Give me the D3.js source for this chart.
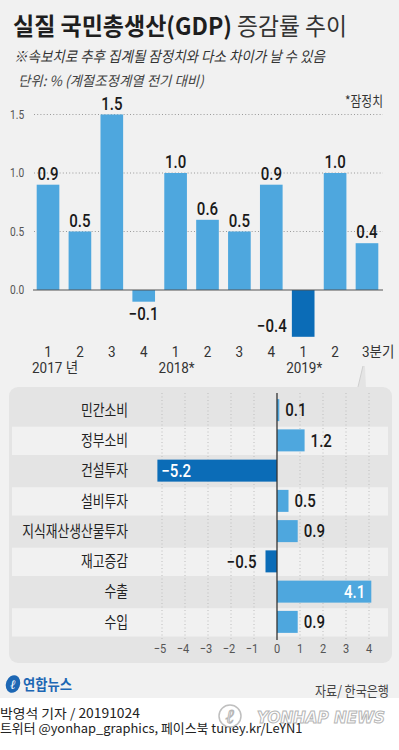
<!DOCTYPE html>
<html>
<head>
<meta charset="utf-8">
<script src="https://cdn.jsdelivr.net/npm/d3@7"></script>
<style>
  html, body { margin: 0; padding: 0; background: #ffffff; }
  svg { display: block; }
</style>
</head>
<body>
<svg id="chart" width="399" height="750"></svg>
<script>
// ---------- data ----------
const quarterKeys = ["2017Q1","2017Q2","2017Q3","2017Q4","2018Q1","2018Q2","2018Q3","2018Q4","2019Q1","2019Q2","2019Q3"];
const gdpGrowth = [0.9, 0.5, 1.5, -0.1, 1.0, 0.6, 0.5, 0.9, -0.4, 1.0, 0.4];
const quarterLabels = ["1","2","3","4","1","2","3","4","1","2","3분기"];
const yearLabels = ["2017 년","","","","2018*","","","","2019*","",""];
const gdpTicks = [0, 0.5, 1.0, 1.5];

const components = ["민간소비","정부소비","건설투자","설비투자","지식재산생산물투자","재고증감","수출","수입"];
const componentGrowth = [0.1, 1.2, -5.2, 0.5, 0.9, -0.5, 4.1, 0.9];
const componentTicks = [-5, -4, -3, -2, -1, 0, 1, 2, 3, 4];

const titleBold = "실질 국민총생산(GDP)";
const titleLight = "증감률 추이";
const subtitle = "※속보치로 추후 집계될 잠정치와 다소 차이가 날 수 있음";
const unitNote = "단위: % (계절조정계열 전기 대비)";
const provisionalNote = "*잠정치";
const sourceNote = "자료/ 한국은행";
const bylineText = "박영석 기자 / 20191024";
const socialText = "트위터 @yonhap_graphics, 페이스북 tuney.kr/LeYN1";

// ---------- helpers ----------
const KR = "'Noto Sans CJK KR', 'Noto Sans', sans-serif";
const NUM = "Roboto, 'Noto Sans CJK KR', sans-serif";
const LIGHT = "#4ea7de", DARK = "#0b6cb7";
const fmt = v => (v < 0 ? "\u2212" : "") + Math.abs(v).toFixed(1);
// horizontally squeeze text around its anchor point (factor or target width)
function squeeze(sel, f, isWidth) {
  sel.each(function () {
    const n = d3.select(this);
    const x0 = +n.attr("x") || 0, y0 = +n.attr("y") || 0;
    const L = this.getComputedTextLength();
    const k = isWidth ? f / L : f;
    n.attr("x", 0).attr("y", 0).attr("transform", `translate(${x0},${y0}) scale(${k},1)`);
  });
}
const fitWidth = (sel, w) => squeeze(sel, w, true);
const condense = (sel, f) => squeeze(sel, f, false);

const svg = d3.select("#chart");

// backgrounds
svg.append("rect").attr("x", 0).attr("y", 0).attr("width", 399).attr("height", 698).attr("fill", "#f1f1f1");
svg.append("rect").attr("x", 0).attr("y", 698).attr("width", 399).attr("height", 52).attr("fill", "#ffffff");

// ---------- titles ----------
svg.append("text").attr("x", 13).attr("y", 35).text(titleBold)
  .attr("font-family", KR).attr("font-weight", 700).attr("font-size", 24).attr("fill", "#1e1e1e")
  .call(fitWidth, 219);
svg.append("text").attr("x", 237).attr("y", 35).text(titleLight)
  .attr("font-family", KR).attr("font-weight", 400).attr("font-size", 24).attr("fill", "#333")
  .call(fitWidth, 110);
svg.append("text").attr("x", 14).attr("y", 62).text(subtitle)
  .attr("font-family", KR).attr("font-style", "italic").attr("font-size", 15).attr("fill", "#333")
  .call(fitWidth, 311);
svg.append("text").attr("x", 18).attr("y", 86).text(unitNote)
  .attr("font-family", KR).attr("font-style", "italic").attr("font-size", 14).attr("fill", "#444")
  .call(fitWidth, 186);
svg.append("text").attr("x", 345).attr("y", 106).text(provisionalNote)
  .attr("font-family", KR).attr("font-size", 14).attr("fill", "#333")
  .call(fitWidth, 38);

// ---------- top chart: GDP growth ----------
const gdpData = quarterKeys.map((k, i) => ({ key: k, value: gdpGrowth[i], q: quarterLabels[i], yr: yearLabels[i] }));
const x = d3.scaleBand().domain(quarterKeys).range([36.7, 378.3]).paddingInner(0.29).paddingOuter(0);
const y = d3.scaleLinear().domain([0, 1.5]).range([290, 114.5]);

const topG = svg.append("g");
// gridlines
topG.selectAll("line.grid").data(gdpTicks.filter(t => t !== 0)).join("line")
  .attr("x1", 34).attr("x2", 383).attr("y1", d => y(d)).attr("y2", d => y(d))
  .attr("stroke", "#9a9a9a").attr("stroke-width", 1).attr("stroke-dasharray", "1,2.2");
// tick labels
topG.selectAll("text.tick").data(gdpTicks).join("text")
  .attr("x", 10).attr("y", d => y(d)).attr("dy", "0.35em")
  .attr("font-family", NUM).attr("font-size", 12).attr("fill", "#555")
  .text(d => d.toFixed(1))
  .call(condense, 0.85);

// bars
topG.selectAll("rect.bar").data(gdpData).join("rect")
  .attr("x", d => x(d.key)).attr("width", x.bandwidth())
  .attr("y", d => y(Math.max(0, d.value)))
  .attr("height", d => Math.abs(y(d.value) - y(0)))
  .attr("fill", d => d.value < -0.2 ? DARK : LIGHT);

// baseline
topG.append("line").attr("x1", 33).attr("x2", 383).attr("y1", y(0)).attr("y2", y(0))
  .attr("stroke", "#555").attr("stroke-width", 1.2);

// value labels
topG.selectAll("text.val").data(gdpData).join("text")
  .attr("font-family", NUM).attr("font-weight", 500).attr("font-size", 17.5).attr("fill", "#1a1a1a")
  .attr("text-anchor", d => d.value < -0.2 ? "end" : "middle")
  .attr("x", d => d.value < -0.2 ? x(d.key) - 5 : x(d.key) + x.bandwidth() / 2)
  .attr("y", d => d.value >= 0 ? y(d.value) - 5 : (d.value < -0.2 ? y(d.value) - 5 : y(d.value) + 18))
  .text(d => fmt(d.value))
  .call(condense, 0.86);

// quarter labels
topG.selectAll("text.q").data(gdpData).join("text")
  .attr("font-family", NUM).attr("font-size", 15).attr("fill", "#333")
  .attr("text-anchor", d => d.q.length > 1 ? "start" : "middle")
  .attr("x", d => x(d.key) + x.bandwidth() / 2 + (d.q.length > 1 ? -5 : 0))
  .attr("y", 356.5)
  .text(d => d.q)
  .call(condense, 0.9);
// year labels
topG.selectAll("text.yr").data(gdpData.filter(d => d.yr)).join("text")
  .attr("font-family", NUM).attr("font-size", 15).attr("fill", "#333")
  .attr("text-anchor", "middle")
  .attr("x", d => x(d.key) + x.bandwidth() / 2 + (d.yr.includes("년") ? 7 : 1))
  .attr("y", 373)
  .text(d => d.yr)
  .call(condense, 0.9);

// ---------- bottom panel: components ----------
const panelColor = "#e4e4e4";
svg.append("rect").attr("x", 9).attr("y", 387).attr("width", 383).attr("height", 276).attr("rx", 9)
  .attr("fill", panelColor);
// speech pointer toward the latest quarter
const px = x("2019Q3") + x.bandwidth() / 2;
svg.append("path")
  .attr("d", `M${px - 9},388 L${px - 4},366 L${px - 2},366 L${px - 1},388 Z`)
  .attr("fill", panelColor);
svg.append("path")
  .attr("d", `M${px - 9},387 L${px - 4},366`)
  .attr("stroke", "#cfcfcf").attr("stroke-width", 1).attr("fill", "none");

const compData = components.map((c, i) => ({ name: c, value: componentGrowth[i] }));
const yb = d3.scaleBand().domain(components).range([395, 637]);
const xb = d3.scaleLinear().domain([-5, 4]).range([162, 369]);
const bw = yb.bandwidth();

const botG = svg.append("g");
// stripes on alternating rows
botG.selectAll("rect.stripe").data(compData.filter((d, i) => i % 2 === 1)).join("rect")
  .attr("x", 12).attr("width", 376)
  .attr("y", d => yb(d.name) + 1.5).attr("height", bw - 2)
  .attr("fill", "#f1f1f1");
// vertical dotted grid
botG.selectAll("line.vgrid").data(componentTicks.filter(t => t !== 0)).join("line")
  .attr("x1", d => xb(d)).attr("x2", d => xb(d)).attr("y1", 393).attr("y2", 639)
  .attr("stroke", "#bdbdbd").attr("stroke-width", 1).attr("stroke-dasharray", "1,2.5");
// bars
const barH = 22;
botG.selectAll("rect.cbar").data(compData).join("rect")
  .attr("x", d => xb(Math.min(0, d.value))).attr("width", d => Math.abs(xb(d.value) - xb(0)))
  .attr("y", d => yb(d.name) + (bw - barH) / 2).attr("height", barH)
  .attr("fill", d => d.value < 0 ? DARK : LIGHT);
// zero line
botG.append("line").attr("x1", xb(0)).attr("x2", xb(0)).attr("y1", 393).attr("y2", 640)
  .attr("stroke", "#333").attr("stroke-width", 1.3);
// category labels
botG.selectAll("text.cat").data(compData).join("text")
  .attr("x", 128).attr("y", d => yb(d.name) + bw / 2).attr("dy", "0.36em")
  .attr("text-anchor", "end")
  .attr("font-family", KR).attr("font-size", 16).attr("fill", "#222")
  .text(d => d.name)
  .call(condense, 0.8);
// value labels
botG.selectAll("text.cval").data(compData).join("text")
  .attr("font-family", NUM).attr("font-weight", 500).attr("font-size", 17.5)
  .attr("y", d => yb(d.name) + bw / 2).attr("dy", "0.36em")
  .each(function (d) {
    const t = d3.select(this);
    const inside = Math.abs(d.value) > 3;
    if (inside && d.value < 0) {
      t.attr("x", xb(d.value) + 4).attr("text-anchor", "start").attr("fill", "#fff");
    } else if (inside) {
      t.attr("x", xb(d.value) - 6).attr("text-anchor", "end").attr("fill", "#fff");
    } else if (d.value < 0) {
      t.attr("x", xb(d.value) - 9).attr("text-anchor", "end").attr("fill", "#1a1a1a");
    } else {
      t.attr("x", xb(d.value) + 6).attr("text-anchor", "start").attr("fill", "#1a1a1a");
    }
  })
  .text(d => fmt(d.value))
  .call(condense, 0.86);
// x tick labels
botG.selectAll("text.xt").data(componentTicks).join("text")
  .attr("x", d => xb(d) - (d < 0 ? 2 : 0)).attr("y", 653)
  .attr("text-anchor", "middle")
  .attr("font-family", NUM).attr("font-size", 13).attr("fill", "#555")
  .text(d => (d < 0 ? "\u2212" : "") + Math.abs(d))
  .call(condense, 0.85);

// ---------- footer ----------
const logo = svg.append("g");
logo.append("ellipse").attr("cx", 13).attr("cy", 684).attr("rx", 7).attr("ry", 9)
  .attr("transform", "rotate(20,13,684)").attr("fill", "#1d67b4");
logo.append("text").attr("x", 13).attr("y", 689).attr("text-anchor", "middle")
  .attr("font-family", "'DejaVu Serif', serif").attr("font-style", "italic").attr("font-weight", 700)
  .attr("font-size", 13).attr("fill", "#fff").text("ℓ");
logo.append("text").attr("x", 23).attr("y", 690).text("연합뉴스")
  .attr("font-family", KR).attr("font-weight", 700).attr("font-size", 15).attr("fill", "#1d67b4")
  .call(fitWidth, 49);

svg.append("text").attr("x", 315).attr("y", 696).text(sourceNote)
  .attr("font-family", KR).attr("font-size", 14).attr("fill", "#444")
  .call(fitWidth, 74);

svg.append("text").attr("x", 0).attr("y", 718).text(bylineText)
  .attr("font-family", KR).attr("font-size", 13).attr("fill", "#222")
  .call(fitWidth, 140);
svg.append("text").attr("x", 0).attr("y", 733).text(socialText)
  .attr("font-family", KR).attr("font-size", 13).attr("fill", "#222")
  .call(fitWidth, 303);

// watermark
const wm = svg.append("g").attr("opacity", 0.85);
wm.append("ellipse").attr("cx", 230).attr("cy", 716).attr("rx", 11).attr("ry", 11)
  .attr("fill", "#fff").attr("stroke", "#b5b5b5").attr("stroke-width", 1.5);
wm.append("text").attr("x", 230).attr("y", 723).attr("text-anchor", "middle")
  .attr("font-family", "'DejaVu Serif', serif").attr("font-style", "italic").attr("font-weight", 700)
  .attr("font-size", 20).attr("fill", "#fff").attr("stroke", "#aaa").attr("stroke-width", 1).text("ℓ");
wm.append("text").attr("x", 257).attr("y", 723).text("YONHAP NEWS")
  .attr("font-family", "'DejaVu Sans', sans-serif").attr("font-style", "italic").attr("font-weight", 700)
  .attr("font-size", 15).attr("fill", "#fff").attr("stroke", "#aaa").attr("stroke-width", 1)
  .call(fitWidth, 128);
</script>
</body>
</html>
